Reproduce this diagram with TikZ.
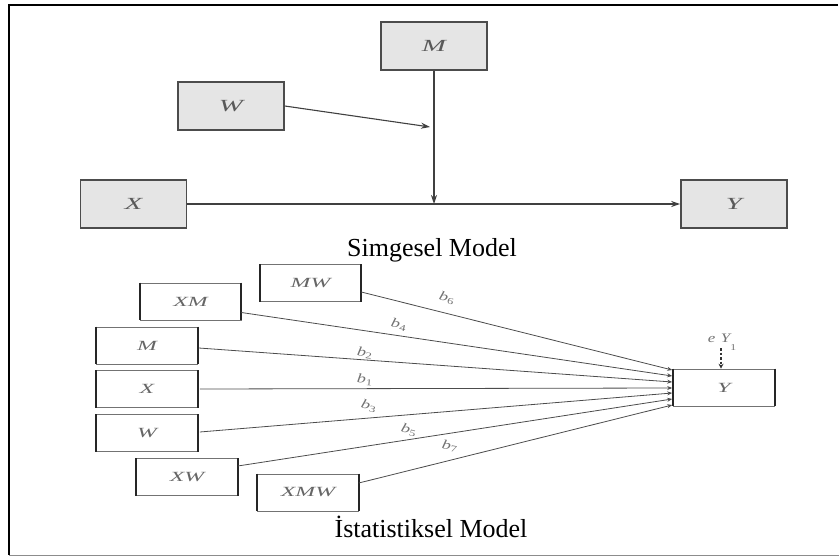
\documentclass[tikz,border=0pt]{standalone}
\usepackage{fontspec}
\setmainfont{Liberation Serif}
\usetikzlibrary{arrows.meta,calc}

% wide italic symbol, as set by the equation editor
\newcommand\wide[1]{\scalebox{1.7}[1]{\itshape #1}}
\newcommand\coef[1]{\scalebox{1.4}[1]{\itshape b\textsubscript{\upshape #1}}}

\tikzset{
  greybox/.style={draw=black!70, line width=1.6pt, fill=black!10,
    minimum width=106pt, minimum height=48pt, inner sep=0pt,
    font=\fontsize{17}{19}\selectfont, text=black!65},
  plainbox/.style={draw=black!55, line width=0.6pt, fill=white,
    minimum width=101pt, minimum height=37pt, inner sep=0pt,
    font=\fontsize{14}{16}\selectfont, text=black!60},
  topline/.style={draw=black!75, line width=1.1pt},
  toparrow/.style={topline, -{Stealth[length=9pt,width=6pt]}},
  pathline/.style={draw=black!70, line width=0.8pt, -{Stealth[length=5pt,width=4pt]}},
  coeflabel/.style={font=\fontsize{13}{14}\selectfont, text=black!55, inner sep=0pt},
  caption/.style={font=\fontsize{26}{30}\selectfont, anchor=base, inner sep=0pt},
}

\begin{document}
\begin{tikzpicture}[x=1pt,y=-1pt]
\useasboundingbox (0,0) rectangle (839,557);

% frame
\draw[line width=1.2pt] (838,5) -- (9,5) -- (9,555);
\draw[black!45, line width=1pt] (9,555) -- (839,555);

% ---------- conceptual model ----------
\node[greybox] (tM) at (434,46)   {\wide{M}};
\node[greybox] (tW) at (231,106)  {\wide{W}};
\node[greybox] (tX) at (133.5,204) {\wide{X}};
\node[greybox] (tY) at (734,204)  {\wide{Y}};

\draw[toparrow] (tX.east) -- (tY.west);
\coordinate (join) at (tM.south |- tX.east);
\draw[toparrow] (tM.south) -- (join);
\coordinate (wend) at (430,127);
\draw[toparrow] (tW.east) -- (wend);

\node[caption] (cap1) at (432,256) {Simgesel Model};

% ---------- statistical model ----------
\node[plainbox] (sMW)  at (310.5,283)  {\wide{MW}};
\node[plainbox] (sXM)  at (190.5,301.5){\wide{XM}};
\node[plainbox] (sM)   at (147,345.5)  {\wide{M}};
\node[plainbox] (sX)   at (147,389)    {\wide{X}};
\node[plainbox] (sW)   at (147,433)    {\wide{W}};
\node[plainbox] (sXW)  at (187,477)    {\wide{XW}};
\node[plainbox] (sXMW) at (308,492.5)  {\wide{XMW}};
\node[plainbox] (sY)   at (724,387.5)  {\wide{Y}};

% heavier side edges of the boxes
\foreach \n in {sMW,sXM,sM,sX,sW,sXW,sXMW,sY}{
  \draw[black!85, line width=1.8pt] (\n.north west) -- (\n.south west);
  \draw[black!85, line width=1.8pt] (\n.north east) -- (\n.south east);
}

% paths into Y
\draw[pathline] ($(sMW.east)+(0,9)$)   -- ($(sY.west)+(-1,-17.5)$);
\draw[pathline] ($(sXM.east)+(0,11)$)  -- ($(sY.west)+(-1,-11.5)$);
\draw[pathline] ($(sM.east)+(1,2.5)$)  -- ($(sY.west)+(-1,-5.5)$);
\draw[pathline] ($(sX.east)+(2,0)$)    -- ($(sY.west)+(-1,0.5)$);
\draw[pathline] ($(sW.east)+(2,-1)$)   -- ($(sY.west)+(-1,5.5)$);
\draw[pathline] ($(sXW.east)+(0,-11)$) -- ($(sY.west)+(-1,11.5)$);
\draw[pathline] ($(sXMW.east)+(0,-9.5)$) -- ($(sY.west)+(-1,17.5)$);

% coefficient labels
\node[coeflabel, rotate=-15] (b6) at (447,298) {\coef{6}};
\node[coeflabel, rotate=-12] (b4) at (399,325) {\coef{4}};
\node[coeflabel, rotate=-8]  (b2) at (365,353) {\coef{2}};
\node[coeflabel, rotate=-5]  (b1) at (365,380) {\coef{1}};
\node[coeflabel, rotate=-15] (b3) at (369,406) {\coef{3}};
\node[coeflabel, rotate=-15] (b5) at (409,430) {\coef{5}};
\node[coeflabel, rotate=-10] (b7) at (450,446) {\coef{7}};

% error term
\node[coeflabel] (eY) at (722,342) {\scalebox{1.3}[1]{\itshape e\,\,Y\raisebox{-1.3ex}{\fontsize{9}{10}\selectfont\upshape 1}}};
\coordinate (etop) at (721,348);
\draw[black!80, line width=1.6pt, dash pattern=on 2.5pt off 2pt,
      -{Stealth[length=5pt,width=5pt]}] (etop) -- (etop |- sY.north);

\node[caption] (cap2) at (431,537) {İstatistiksel Model};
\end{tikzpicture}
\end{document}
